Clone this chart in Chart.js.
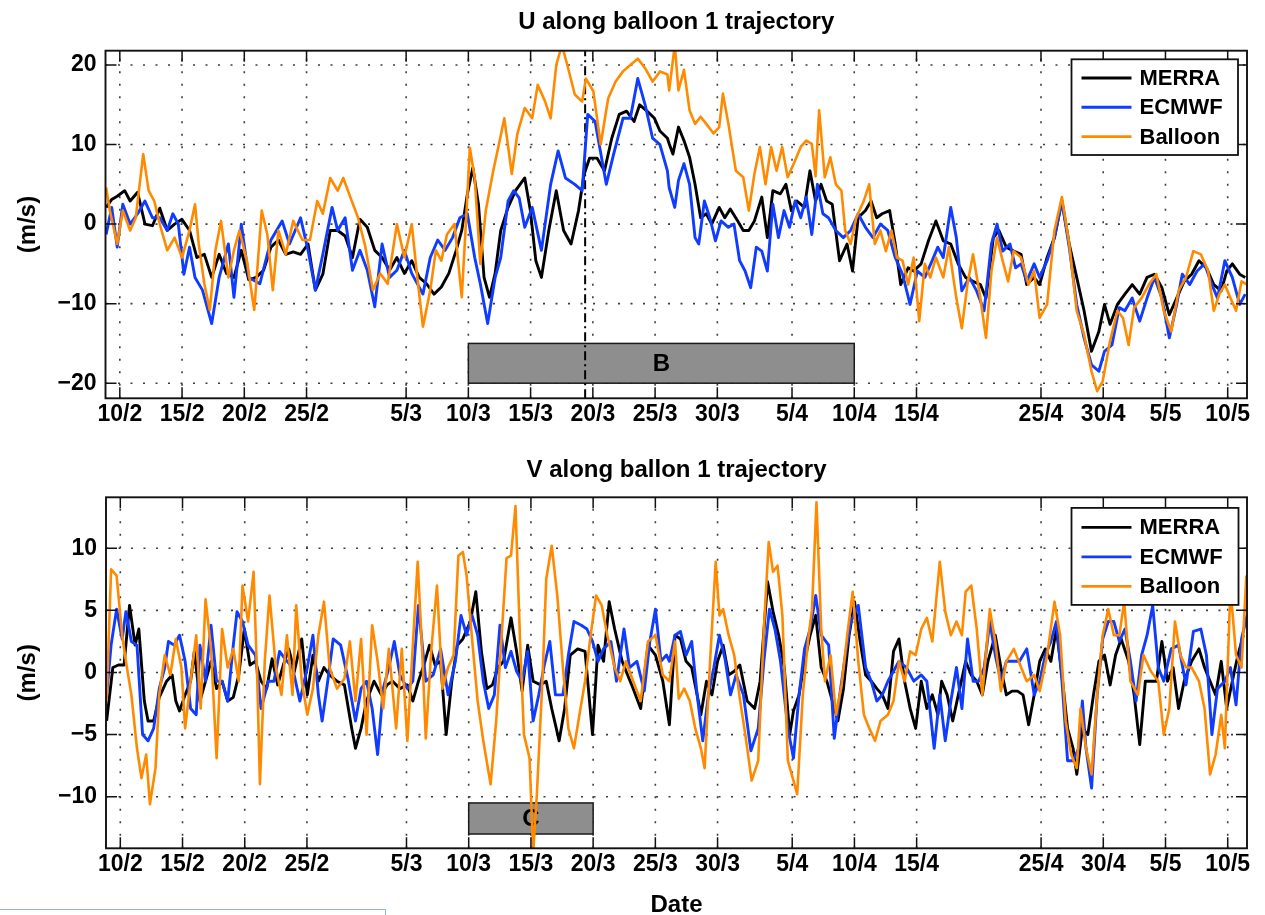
<!DOCTYPE html>
<html>
<head>
<meta charset="utf-8">
<script src="https://cdn.jsdelivr.net/npm/chart.js@4.4.1/dist/chart.umd.min.js"></script>
<style>
  html, body { margin: 0; padding: 0; background: #fff; overflow: hidden; width: 1265px; height: 915px; }
  #wrap { position: relative; width: 1265px; height: 915px; overflow: hidden; }
  canvas { position: absolute; left: 0; }
  #chartU { top: 0; }
  #chartV { top: 450px; }
  .selbox { position: absolute; left: -2px; top: 909px; width: 386px; height: 30px; border: 1.5px solid #8fb3e6; }
</style>
</head>
<body>
<div id="wrap">
  <canvas id="chartU" width="1265" height="450" style="width:1265px;height:450px"></canvas>
  <canvas id="chartV" width="1265" height="480" style="width:1265px;height:480px"></canvas>
  <div class="selbox"></div>
</div>
<script>
// Time axis: days after 10 Feb 2010 (00 UTC)
const tickDays   = [0, 5, 10, 15, 23, 28, 33, 38, 43, 48, 54, 59, 64, 74, 79, 84, 89];
const tickLabels = ['10/2','15/2','20/2','25/2','5/3','10/3','15/3','20/3','25/3','30/3','5/4','10/4','15/4','25/4','30/4','5/5','10/5'];
const dayRange = [-1.15, 90.55];

const uTicks = [-20, -10, 0, 10, 20];
const uRange = [-21.9, 21.8];
const vTicks = [-10, -5, 0, 5, 10];
const vRange = [-14.15, 14.1];

// Analysis periods shown as grey bars
const periodB = { from: 28, to: 59, low: -20, high: -15, label: 'B' };
const periodC = { from: 28, to: 38, low: -13, high: -10.5, label: 'C' };
// change of trajectory segment (dash-dot marker in U panel)
const splitDay = 37.38;

// ---------- U component ----------
const uMerraDay = [-1.10,-0.65,-0.21,0.39,0.83,1.43,2.02,2.62,3.21,3.81,4.40,4.99,5.60,6.19,6.79,7.38,7.98,8.57,9.17,9.76,10.36,10.95,11.55,12.14,12.74,13.33,13.93,14.52,15.12,15.71,16.31,16.90,17.50,18.10,18.69,19.29,19.88,20.48,21.07,21.67,22.26,22.86,23.45,24.05,24.64,25.24,25.83,26.43,27.02,27.47,27.92,28.36,28.81,29.26,29.70,30.15,30.60,31.19,31.79,32.53,32.98,33.42,33.87,34.46,35.06,35.65,36.25,36.85,37.29,37.74,38.33,38.93,39.52,40.12,40.71,41.31,41.76,42.35,42.95,43.39,43.99,
  44.13,44.43,44.88,45.32,45.77,46.21,46.66,47.11,47.55,48.15,48.60,49.04,49.64,50.08,50.53,50.98,51.57,52.02,52.46,53.06,53.51,53.95,54.40,54.99,55.44,55.89,56.33,56.78,57.23,57.82,58.42,58.86,59.31,59.90,60.35,60.80,61.24,61.84,62.29,62.73,63.33,63.77,64.37,64.96,65.56,66.15,66.75,67.35,67.94,68.54,69.13,69.58,70.17,70.62,71.21,71.81,72.40,72.85,73.45,73.89,74.49,75.08,75.68,76.27,76.87,77.46,78.06,78.65,79.10,79.55,80.14,80.74,81.33,81.93,82.52,83.12,83.71,84.31,84.90,85.50,86.10,86.69,87.29,87.88,88.48,88.92,89.37,89.96,90.41];
const uMerra = [2.1,3.1,3.5,4.2,2.9,4.0,0.0,-0.2,2.0,-0.8,0.0,0.6,-0.8,-4.2,-3.8,-6.7,-3.8,-6.2,-6.7,-3.3,-7.0,-6.7,-5.8,-2.9,-2.0,-3.8,-3.5,-3.8,-2.5,-8.3,-6.3,-0.8,-0.8,-1.5,-4.2,0.6,-0.4,-3.3,-4.2,-5.8,-4.2,-6.2,-4.6,-6.7,-7.5,-8.8,-7.9,-6.2,-3.3,-0.8,3.8,7.1,2.5,-6.7,-9.2,-6.2,-0.8,2.1,4.2,5.8,1.7,-4.6,-6.7,-0.8,4.2,-0.8,-2.5,1.7,6.2,8.3,8.3,6.7,10.8,13.8,14.2,12.9,15.0,14.2,13.3,11.7,10.8,
  10.1,8.8,12.2,10.5,8.4,5.0,0.8,1.3,0.0,2.1,0.8,1.9,0.4,-0.8,-0.8,0.4,3.4,-1.7,4.2,3.8,5.0,1.7,2.9,2.1,6.7,2.9,5.0,2.9,2.5,-4.6,-2.5,-5.9,0.8,1.7,2.9,0.8,1.3,1.7,-2.5,-7.6,-5.5,-5.9,-5.0,-2.1,0.4,-2.1,-2.5,-5.0,-6.7,-7.2,-7.6,-9.3,-1.7,-0.8,-2.9,-3.4,-3.8,-7.6,-6.7,-7.6,-4.2,-1.7,2.9,-2.5,-6.7,-10.9,-16.0,-13.5,-10.1,-12.6,-10.1,-8.8,-7.6,-8.8,-6.7,-6.3,-8.0,-11.4,-9.3,-7.2,-6.3,-4.6,-5.5,-7.6,-8.4,-5.9,-5.0,-6.3,-6.7];

const uEcmwfDay = [-1.10,-0.65,-0.21,0.24,0.83,1.43,2.02,2.62,3.21,3.81,4.26,4.70,5.15,5.60,6.04,6.64,7.38,7.98,8.72,9.17,9.76,10.36,11.25,12.14,13.04,13.63,14.52,15.12,15.71,16.31,17.05,17.50,18.10,18.69,19.29,19.88,20.48,21.07,21.67,22.26,22.86,23.45,24.35,24.94,25.54,26.13,26.73,27.32,27.92,28.51,28.96,29.55,30.15,30.60,31.19,31.64,32.08,32.53,33.13,33.87,34.61,35.21,35.80,36.55,37.14,37.59,38.18,39.08,39.67,40.42,41.01,41.61,42.20,42.80,43.39,43.99,
  44.13,44.58,44.88,45.32,45.77,46.21,46.51,46.96,47.40,47.85,48.30,48.89,49.34,49.79,50.23,50.68,51.13,51.57,52.02,52.46,52.91,53.36,53.80,54.25,54.70,55.14,55.59,56.04,56.48,56.93,57.52,58.12,58.71,59.31,59.90,60.50,61.10,61.69,62.29,62.88,63.48,64.07,64.67,65.26,65.71,66.15,66.75,67.20,67.64,68.24,68.83,69.43,70.02,70.47,70.92,71.51,71.96,72.40,72.85,73.45,73.89,74.49,75.08,75.68,76.27,76.87,77.46,78.06,78.65,79.10,79.70,80.29,80.74,81.33,81.93,82.52,83.12,83.71,84.31,84.90,85.35,85.95,86.54,87.14,87.73,88.18,88.77,89.37,89.96,90.41];
const uEcmwf = [-1.3,2.1,-2.9,2.5,0.0,1.3,2.9,0.8,0.8,-0.8,1.3,0.0,-6.3,-2.9,-6.7,-8.3,-12.5,-6.7,-2.5,-9.2,0.0,-6.7,-7.5,-2.0,0.4,-2.5,0.8,-3.3,-8.3,-3.8,2.1,-0.8,0.8,-5.8,-3.3,-5.8,-10.4,-2.5,-6.7,-5.8,-3.3,-6.2,-8.8,-4.2,-2.0,-3.3,-1.7,0.8,1.3,-4.2,-7.5,-12.5,-6.7,-4.2,2.9,4.2,3.3,-0.4,2.1,-3.3,5.0,9.2,5.8,5.0,4.2,13.8,12.9,5.0,8.8,13.3,13.3,18.3,15.0,10.8,10.0,6.7,
  4.6,2.1,5.5,7.6,5.0,-1.7,-2.5,2.9,0.8,-2.1,0.4,-0.4,0.0,-4.6,-5.9,-8.0,-2.9,-3.4,-5.9,2.5,-1.7,1.7,-0.4,2.9,0.8,3.4,-1.3,5.0,1.3,0.8,-0.8,-1.7,-0.8,1.3,-0.4,-1.7,0.0,-0.8,-4.2,-6.3,-10.1,-5.9,-6.7,-4.6,-2.9,-4.2,2.1,-1.7,-8.4,-6.7,-8.4,-10.9,-2.5,0.0,-3.4,-2.5,-5.5,-5.0,-7.2,-5.0,-6.7,-4.6,-1.7,2.9,-2.9,-10.1,-14.3,-17.7,-18.5,-16.0,-15.2,-10.5,-10.9,-9.3,-12.2,-9.3,-6.7,-9.3,-14.3,-10.1,-6.3,-7.6,-5.9,-5.0,-7.6,-9.3,-4.6,-6.7,-10.1,-8.8];

const uBalloonDay = [-1.10,-0.80,-0.21,0.24,0.83,1.28,1.88,2.32,2.77,3.21,3.81,4.40,5.00,5.60,6.04,6.34,6.79,7.23,7.68,8.13,8.72,9.17,9.61,10.21,10.80,11.40,11.85,12.29,12.74,13.33,13.93,14.67,15.27,15.86,16.31,16.90,17.50,17.95,18.54,19.14,19.73,20.33,20.92,21.52,22.26,22.86,23.45,23.90,24.35,24.94,25.39,25.83,26.28,26.88,27.47,27.77,28.12,28.51,28.96,29.40,30.00,30.45,30.89,31.49,31.93,32.53,33.13,33.57,34.17,34.61,35.06,35.51,35.95,36.55,37.14,37.44,38.04,38.63,39.23,39.82,40.42,41.01,41.61,42.20,42.80,43.39,43.99,
  44.13,44.58,44.88,45.32,45.77,46.21,46.66,47.11,47.70,48.15,48.45,48.89,49.49,50.08,50.53,50.98,51.42,51.87,52.32,52.76,53.21,53.65,54.25,54.70,55.14,55.59,55.89,56.18,56.63,57.08,57.52,57.97,58.27,58.71,59.16,59.76,60.20,60.65,61.10,61.54,61.99,62.43,62.88,63.33,63.77,64.22,64.67,65.11,65.56,66.15,66.60,67.20,67.64,68.09,68.54,69.13,69.58,70.02,70.47,70.92,71.36,71.81,72.40,73.00,73.45,73.89,74.49,75.08,75.68,76.27,76.87,77.46,78.06,78.51,78.95,79.55,80.14,80.59,81.04,81.48,82.08,82.67,83.27,83.86,84.46,85.05,85.65,86.24,86.84,87.43,87.88,88.33,88.77,89.22,89.67,90.11,90.56];
const uBalloon = [4.6,1.7,-2.5,1.7,-0.8,0.8,8.8,4.2,2.9,0.0,-3.3,-1.7,-4.2,-0.8,2.5,-2.5,-7.5,-10.8,-3.3,0.4,-6.7,-3.3,-0.8,-4.6,-10.8,1.7,-1.3,-8.3,-0.8,-3.8,0.4,-2.0,-2.0,2.9,1.3,5.8,4.2,5.8,3.3,0.8,-2.9,-8.3,-6.2,-7.5,0.0,-4.2,0.0,-6.7,-12.9,-8.3,-3.3,-4.6,-1.3,0.0,-9.2,-0.8,9.6,5.8,-5.0,1.7,6.7,10.0,13.3,6.3,11.3,14.6,13.3,17.5,15.4,13.3,20.0,22.5,20.0,16.3,15.4,18.3,16.7,10.0,15.8,17.9,19.2,20.0,20.8,19.6,17.9,19.2,18.8,
  16.8,22.5,16.8,19.4,14.3,12.6,13.5,12.6,11.4,12.2,16.4,12.6,6.7,5.9,1.7,6.3,9.7,5.0,9.7,6.7,9.7,5.9,8.0,9.7,10.5,10.1,6.0,14.3,5.9,8.4,5.0,4.2,-0.8,-2.5,0.8,2.9,5.0,-2.5,-0.8,-3.4,-0.8,-4.2,-4.6,-7.6,-4.2,-12.2,-5.0,-6.7,-4.2,-6.7,-2.9,-9.3,-13.1,-7.6,-3.8,-9.3,-14.3,-5.9,-1.7,-4.6,-7.2,-3.4,-4.2,-7.6,-5.9,-11.8,-10.1,-0.8,3.4,-2.5,-10.9,-13.9,-18.5,-21.0,-19.8,-14.7,-10.9,-11.8,-15.2,-10.5,-9.3,-7.6,-6.3,-10.9,-13.5,-8.4,-6.7,-3.4,-3.8,-5.9,-10.9,-8.8,-7.6,-9.3,-10.9,-7.2,-7.6];

// ---------- V component ----------
const vMerraDay = [-1.10,-0.60,-0.15,0.30,0.74,1.19,1.49,1.93,2.23,2.68,3.13,3.72,4.17,4.46,4.76,5.21,5.65,5.95,6.40,6.85,7.29,7.74,8.18,8.63,9.08,9.52,9.97,10.42,10.86,11.31,11.76,12.20,12.65,13.10,13.54,13.99,14.58,15.03,15.48,15.92,16.37,16.82,17.41,18.01,18.60,18.90,19.35,19.79,20.39,20.98,21.43,21.88,22.47,23.07,23.51,23.96,24.40,24.85,25.30,25.74,26.19,26.64,27.08,27.53,28.13,28.57,29.02,29.46,29.91,30.36,30.80,31.40,31.85,32.29,32.74,33.18,33.78,34.23,34.67,35.27,35.71,36.16,36.76,37.35,37.95,38.39,38.84,39.29,39.73,40.33,40.77,41.22,41.82,42.41,43.01,43.60,
  44.13,44.58,45.02,45.47,45.92,46.36,46.66,47.11,47.55,48.00,48.45,48.89,49.34,49.79,50.38,50.98,51.42,52.02,52.46,52.91,53.36,53.80,54.10,54.55,54.99,55.44,55.89,56.33,56.78,57.23,57.67,58.12,58.57,59.01,59.46,59.90,60.35,60.80,61.24,61.69,62.14,62.58,63.03,63.48,63.92,64.37,64.82,65.26,65.71,66.01,66.45,66.90,67.35,67.94,68.39,68.83,69.28,69.73,70.32,70.77,71.21,71.66,72.11,72.55,73.00,73.45,73.89,74.34,74.79,75.23,75.68,76.13,76.57,76.87,77.32,77.76,78.21,78.65,79.10,79.55,79.99,80.44,81.04,81.48,81.93,82.38,82.82,83.27,83.71,84.16,84.61,85.05,85.50,86.10,86.69,87.14,87.58,88.03,88.48,88.92,89.37,89.82,90.26];
const vMerra = [-3.9,0.4,0.6,0.6,5.4,2.2,3.5,-2.3,-3.9,-3.9,-2.0,-0.7,-0.2,-2.3,-3.1,-1.8,-0.7,1.7,-2.3,-0.7,0.9,-1.3,-0.7,-2.3,-2.0,-0.2,3.5,0.6,0.9,-0.7,-1.3,1.1,-1.0,0.6,1.9,0.1,2.7,-1.8,1.4,-0.7,0.4,-0.2,-0.7,-1.0,-4.5,-6.1,-4.5,-2.3,-0.7,-1.8,-1.0,-0.7,-1.3,-1.0,-2.3,-0.7,0.6,2.2,0.6,0.9,-5.0,-0.7,2.2,2.7,4.1,6.5,1.7,-1.3,-1.0,0.4,0.9,4.4,1.7,-1.5,2.2,-0.7,-1.0,-0.7,-2.9,-5.5,-2.9,1.4,1.9,1.7,-5.0,2.2,0.9,5.7,3.5,0.9,-0.2,-1.3,-2.9,2.2,1.4,-0.7,
  -4.2,3.0,2.7,0.9,0.4,-1.8,-3.4,-0.7,-1.8,0.9,2.2,-0.2,0.1,0.6,-2.3,-2.9,-0.7,7.3,4.9,3.0,0.4,-5.0,-3.1,-1.8,0.9,3.0,4.6,0.4,-0.7,-2.3,-3.9,-1.3,3.0,5.7,2.5,-0.2,-0.7,-1.3,-1.8,-2.9,1.7,2.7,-0.7,-2.9,-4.5,-0.7,-2.9,-1.8,-3.4,-0.7,-1.8,-3.9,-1.8,0.9,-0.2,-0.7,-1.8,0.9,3.0,0.4,-1.8,-1.5,-1.5,-1.8,-4.2,-1.8,0.9,1.9,0.9,3.5,-0.2,-4.5,-6.1,-8.2,-4.5,-5.0,-1.8,0.9,1.4,-1.0,1.4,2.7,0.9,-1.8,-5.8,-0.7,-0.7,-0.7,2.5,-0.7,0.4,-2.9,-0.7,0.9,1.9,0.4,-0.7,-1.8,0.9,-2.9,-0.7,1.4,3.0];

const vEcmwfDay = [-1.10,-0.74,-0.30,0.15,0.45,0.89,1.34,1.79,2.23,2.68,3.13,3.57,3.87,4.32,4.76,5.21,5.65,6.10,6.40,6.85,7.29,7.74,8.18,8.63,9.08,9.38,9.82,10.27,10.86,11.31,11.90,12.35,12.80,13.24,13.84,14.43,15.03,15.48,15.92,16.22,16.67,17.11,17.71,18.30,18.90,19.35,19.79,20.24,20.68,21.13,21.58,22.02,22.47,23.07,23.51,23.96,24.55,25.15,25.74,26.34,26.93,27.38,27.83,28.27,28.72,29.17,29.61,30.06,30.51,30.95,31.40,31.85,32.29,32.74,33.18,33.63,34.08,34.52,34.97,35.57,36.01,36.46,37.05,37.50,37.95,38.39,38.84,39.43,39.88,40.48,40.92,41.52,42.11,42.56,43.01,43.45,43.90,
  44.13,44.58,45.02,45.47,45.92,46.36,46.81,47.26,47.70,48.15,48.60,49.04,49.49,50.08,50.68,51.27,51.72,52.17,52.61,53.06,53.65,54.10,54.55,54.99,55.44,55.89,56.33,56.93,57.38,57.82,58.27,58.71,59.31,59.90,60.35,60.80,61.24,61.69,62.14,62.58,63.18,63.77,64.37,64.82,65.41,65.86,66.30,66.75,67.20,67.64,68.09,68.54,68.98,69.43,69.88,70.32,70.77,71.21,71.66,72.26,72.85,73.45,73.89,74.34,74.79,75.23,75.68,76.13,76.57,77.02,77.32,77.61,78.06,78.51,78.95,79.40,79.85,80.29,80.74,81.18,81.63,82.08,82.52,82.97,83.42,83.86,84.46,85.05,85.65,86.24,86.84,87.29,87.73,88.18,88.77,89.22,89.67,90.11,90.56];
const vEcmwf = [-1.8,2.2,5.1,2.7,4.9,2.5,2.2,-5.0,-5.5,-4.5,-1.3,0.4,2.5,2.2,3.0,0.9,-2.9,-3.4,2.2,-0.7,3.8,-0.7,-0.7,-2.3,2.2,4.9,4.1,2.2,1.4,-2.9,-0.7,-0.7,1.7,1.1,0.4,-2.3,0.4,3.0,-1.8,-3.9,-0.7,2.7,2.2,-0.5,-3.9,-1.3,-0.7,-2.9,-6.6,-1.3,0.4,2.5,-0.2,-1.3,-0.7,5.4,-0.7,-0.2,1.9,-1.8,0.9,4.6,3.0,4.6,3.0,-0.7,-2.9,-1.8,3.8,0.4,1.7,0.1,-0.7,1.7,-3.9,-1.8,0.6,2.5,-1.8,-1.8,1.4,4.1,3.8,3.5,2.5,0.9,1.9,2.5,-0.7,3.5,0.4,0.9,-1.5,2.5,5.1,0.9,1.4,
  0.9,3.0,3.3,1.4,2.5,-1.8,-5.5,-1.8,0.4,3.0,1.1,-1.8,-0.2,-1.8,-6.3,-4.5,0.9,5.1,3.5,0.9,-4.5,-6.9,-1.8,1.9,3.5,6.2,3.0,2.2,-5.3,-1.8,1.4,4.1,5.4,0.4,-0.7,-2.3,-1.8,-0.7,0.1,0.9,0.4,-0.7,-0.2,-0.7,-6.1,-1.8,-5.5,-2.3,0.4,-2.9,2.7,-0.7,-0.7,0.4,4.1,1.4,-0.7,0.9,0.9,0.9,1.9,-1.8,-0.7,1.4,2.5,4.1,-0.7,-7.1,-7.1,-6.1,-2.3,-6.1,-9.3,-1.8,2.7,4.1,4.1,2.5,3.5,0.9,-2.3,1.4,3.0,5.4,0.4,-0.7,1.9,2.2,-1.0,3.3,3.5,1.4,-5.0,-1.3,-0.7,0.4,-2.6,2.7,4.6];

const vBalloonDay = [-1.10,-0.74,-0.30,0.15,0.45,0.89,1.34,1.70,2.08,2.38,2.83,3.13,3.57,4.02,4.46,4.91,5.21,5.65,6.10,6.46,6.85,7.29,7.74,8.18,8.63,9.08,9.52,9.82,10.27,10.71,11.01,11.22,11.61,11.99,12.50,12.95,13.39,13.84,14.14,14.58,15.03,15.48,15.92,16.37,16.82,17.41,18.01,18.45,18.90,19.35,19.79,20.24,20.68,21.13,21.58,22.17,22.62,23.07,23.51,23.90,24.26,24.55,25.00,25.45,25.89,26.34,26.79,27.17,27.53,27.83,28.27,28.72,29.17,29.76,30.21,30.65,31.04,31.40,31.76,32.14,32.44,32.89,33.18,33.48,33.93,34.23,34.67,35.12,35.57,36.01,36.46,36.90,37.35,37.80,38.24,38.69,39.14,39.73,40.18,40.63,41.22,41.82,42.41,43.01,43.60,
  44.13,44.58,44.88,45.32,45.77,46.21,46.66,46.96,47.40,47.85,48.15,48.45,48.89,49.34,49.79,50.23,50.74,51.27,51.72,52.11,52.46,52.82,53.21,53.65,54.10,54.40,54.85,55.29,55.59,55.95,56.33,56.63,57.08,57.52,57.97,58.42,58.86,59.31,59.76,60.20,60.65,61.10,61.69,62.14,62.58,63.03,63.48,63.92,64.37,64.82,65.26,65.86,66.30,66.75,67.20,67.64,67.94,68.39,68.83,69.28,69.88,70.32,70.77,71.21,71.81,72.40,72.85,73.45,73.89,74.49,75.08,75.53,75.98,76.42,76.87,77.17,77.61,78.06,78.51,78.95,79.40,79.85,80.29,80.68,81.18,81.78,82.23,82.82,83.42,83.86,84.31,84.76,85.20,85.65,86.10,86.69,87.14,87.58,88.03,88.48,88.77,89.22,89.67,90.11,90.50];
const vBalloon = [-2.3,8.3,7.8,3.0,0.9,-1.8,-6.1,-8.5,-6.6,-10.6,-7.7,-1.8,1.4,-0.2,2.7,0.4,-4.5,-0.7,3.0,-2.9,5.9,1.9,-6.9,3.5,0.4,1.9,-0.7,7.0,4.1,8.1,-0.7,-9.0,0.9,6.2,0.4,-1.8,3.0,-1.8,5.4,-0.7,-3.4,-1.3,3.0,5.7,0.4,-1.3,-0.5,2.5,-2.3,2.7,-5.0,3.8,0.9,-2.9,1.9,-4.5,1.9,-5.5,2.2,8.9,1.7,-5.3,1.9,7.0,-1.3,0.4,1.4,9.4,9.7,7.8,2.7,-2.3,-5.5,-9.0,-3.9,3.0,9.2,9.4,13.4,2.2,-5.0,-6.9,-14.5,-9.8,-0.5,7.5,10.2,6.2,0.4,-4.5,-6.1,-3.4,-0.7,3.0,6.2,5.4,3.0,0.4,-0.7,0.9,-0.7,-2.3,2.5,3.0,-0.2,
  -0.7,2.5,-2.1,-1.3,-2.3,-4.5,-6.1,-7.7,0.9,8.9,4.6,5.1,3.0,1.4,-2.1,-5.0,-8.7,-7.1,3.5,10.5,8.1,8.6,4.6,-7.1,-8.7,-9.8,-1.8,2.7,5.1,13.7,3.5,-0.7,1.4,-3.4,-1.0,3.0,6.5,0.9,-3.4,-4.5,-5.5,-3.9,-3.4,-2.3,0.9,-0.7,1.7,1.4,3.5,4.4,2.5,8.9,4.9,3.0,4.1,3.0,6.5,7.0,3.5,-1.8,5.1,2.5,-1.5,0.9,1.9,0.4,-0.7,-0.2,-1.5,1.4,5.7,3.0,-3.9,-6.6,-7.7,-2.9,-6.1,-8.2,-1.8,3.0,5.1,3.0,3.0,5.7,-0.7,-1.8,1.4,0.1,-0.7,-5.0,-2.9,4.1,1.4,0.4,0.4,-0.7,-2.9,-8.2,-6.6,-3.4,-6.1,6.8,1.4,0.4,7.8];

const legendOrder = ['MERRA', 'ECMWF', 'Balloon'];
const FONT = '"Liberation Sans", Arial, Helvetica, sans-serif';
Chart.defaults.font.family = FONT;
Chart.defaults.color = '#000';

const pts = (days, vals) => days.map((d, i) => ({ x: d, y: vals[i] }));
const fmtTick = v => (v < 0 ? '\u2212' + Math.abs(v) : String(v));

// grid, shaded period, inward ticks, frame and boxed legend in the MATLAB style
const axesDecor = {
  id: 'axesDecor',
  beforeDatasetsDraw(chart, _args, o) {
    const { ctx, chartArea: a, scales: { x, y } } = chart;
    ctx.save();
    ctx.strokeStyle = 'rgba(40,40,40,0.9)';
    ctx.lineWidth = 1.6;
    ctx.setLineDash([2, 10.5]);
    for (const t of x.ticks) {
      const px = x.getPixelForValue(t.value);
      ctx.beginPath(); ctx.moveTo(px, a.bottom); ctx.lineTo(px, a.top); ctx.stroke();
    }
    for (const t of y.ticks) {
      const py = y.getPixelForValue(t.value);
      ctx.beginPath(); ctx.moveTo(a.left, py); ctx.lineTo(a.right, py); ctx.stroke();
    }
    ctx.setLineDash([]);
    const p = o.period;
    const x0 = x.getPixelForValue(p.from), x1 = x.getPixelForValue(p.to);
    const y0 = y.getPixelForValue(p.high), y1 = y.getPixelForValue(p.low);
    ctx.fillStyle = '#8e8e8e';
    ctx.fillRect(x0, y0, x1 - x0, y1 - y0);
    ctx.strokeStyle = '#1a1a1a';
    ctx.lineWidth = 1.5;
    ctx.strokeRect(x0, y0, x1 - x0, y1 - y0);
    ctx.fillStyle = '#000';
    ctx.font = 'bold 24px ' + FONT;
    ctx.textAlign = 'center';
    ctx.textBaseline = 'middle';
    ctx.fillText(p.label, (x0 + x1) / 2, (y0 + y1) / 2 + 1);
    ctx.restore();
  },
  afterDatasetsDraw(chart, _args, o) {
    const { ctx, chartArea: a, scales: { x, y } } = chart;
    ctx.save();
    const tl = 11;
    ctx.strokeStyle = '#111';
    ctx.lineWidth = 1.5;
    ctx.beginPath();
    for (const t of x.ticks) {
      const px = x.getPixelForValue(t.value);
      ctx.moveTo(px, a.bottom); ctx.lineTo(px, a.bottom - tl);
      ctx.moveTo(px, a.top); ctx.lineTo(px, a.top + tl);
    }
    for (const t of y.ticks) {
      const py = y.getPixelForValue(t.value);
      ctx.moveTo(a.left, py); ctx.lineTo(a.left + tl, py);
      ctx.moveTo(a.right, py); ctx.lineTo(a.right - tl, py);
    }
    ctx.stroke();
    ctx.lineWidth = 1.9;
    ctx.strokeRect(a.left, a.top, a.right - a.left, a.bottom - a.top);

    const lg = o.legend;
    const bx = a.right - lg.right - lg.width, by = a.top + lg.top;
    ctx.fillStyle = '#fff';
    ctx.fillRect(bx, by, lg.width, lg.height);
    ctx.strokeStyle = '#111';
    ctx.lineWidth = 1.8;
    ctx.strokeRect(bx, by, lg.width, lg.height);
    ctx.font = 'bold 22px ' + FONT;
    ctx.textAlign = 'left';
    ctx.textBaseline = 'middle';
    legendOrder.forEach((name, i) => {
      const ds = chart.data.datasets.find(d => d.label === name);
      const ry = by + lg.firstRow + i * lg.rowGap;
      ctx.strokeStyle = ds.borderColor;
      ctx.lineWidth = ds.borderWidth;
      ctx.beginPath(); ctx.moveTo(bx + 10, ry); ctx.lineTo(bx + 60, ry); ctx.stroke();
      ctx.fillStyle = '#000';
      ctx.fillText(name, bx + 68, ry + 1);
    });
    ctx.restore();
  }
};

function makeChart(id, cfg) {
  const datasets = [
    { label: 'Balloon', data: pts(cfg.balloon[0], cfg.balloon[1]), borderColor: '#ff8a00', borderWidth: 2.6 },
    { label: 'ECMWF', data: pts(cfg.ecmwf[0], cfg.ecmwf[1]), borderColor: '#0f3cff', borderWidth: 2.9 },
    { label: 'MERRA', data: pts(cfg.merra[0], cfg.merra[1]), borderColor: '#000000', borderWidth: 2.9 }
  ];
  if (cfg.marker !== undefined) {
    datasets.push({ label: 'segment', data: [{ x: cfg.marker, y: cfg.yRange[0] }, { x: cfg.marker, y: cfg.yRange[1] }],
      borderColor: '#000', borderWidth: 2, borderDash: [9, 4, 2, 4] });
  }
  datasets.forEach(d => { d.pointRadius = 0; d.tension = 0; d.fill = false; d.borderJoinStyle = 'round'; });

  return new Chart(document.getElementById(id), {
    type: 'line',
    data: { datasets },
    options: {
      responsive: false,
      maintainAspectRatio: false,
      animation: false,
      devicePixelRatio: 1,
      events: [],
      layout: { padding: { left: 0, right: 18, top: 0, bottom: 0 } },
      scales: {
        x: {
          type: 'linear',
          min: dayRange[0], max: dayRange[1],
          afterBuildTicks: s => { s.ticks = tickDays.map(v => ({ value: v })); },
          afterFit: s => { s.height = cfg.xHeight; },
          ticks: {
            autoSkip: false, maxRotation: 0, minRotation: 0, padding: 3,
            font: { size: 23, weight: 'bold' }, color: '#000',
            callback: v => tickLabels[tickDays.indexOf(v)]
          },
          grid: { display: false, drawTicks: false },
          border: { display: false },
          title: cfg.xTitle ? { display: true, text: cfg.xTitle, font: { size: 24, weight: 'bold' }, padding: { top: 0, bottom: 10.6 } } : { display: false }
        },
        y: {
          type: 'linear',
          min: cfg.yRange[0], max: cfg.yRange[1],
          afterBuildTicks: s => { s.ticks = cfg.yTicks.map(v => ({ value: v })); },
          afterFit: s => { s.width = cfg.yWidth; },
          ticks: { padding: 9, font: { size: 23, weight: 'bold' }, color: '#000', callback: fmtTick },
          grid: { display: false, drawTicks: false },
          border: { display: false },
          title: { display: true, text: '(m/s)', font: { size: 24, weight: 'bold' }, padding: { top: 14, bottom: 0 } }
        }
      },
      plugins: {
        legend: { display: false },
        tooltip: { enabled: false },
        title: {
          display: true, text: cfg.title, fullSize: false,
          font: { size: 24, weight: 'bold' }, color: '#000',
          padding: cfg.titlePad
        },
        axesDecor: { period: cfg.period, legend: cfg.legend }
      }
    },
    plugins: [axesDecor]
  });
}

makeChart('chartU', {
  title: 'U along balloon 1 trajectory',
  titlePad: { top: 7.6, bottom: 14.3 },
  merra: [uMerraDay, uMerra], ecmwf: [uEcmwfDay, uEcmwf], balloon: [uBalloonDay, uBalloon],
  yRange: uRange, yTicks: uTicks, yWidth: 105.5, xHeight: 51.7,
  marker: splitDay, period: periodB,
  legend: { right: 9, width: 166.5, top: 8.6, height: 95.7, firstRow: 18.7, rowGap: 29.3 }
});

makeChart('chartV', {
  title: 'V along ballon 1 trajectory',
  titlePad: { top: 5.6, bottom: 12.9 },
  merra: [vMerraDay, vMerra], ecmwf: [vEcmwfDay, vEcmwf], balloon: [vBalloonDay, vBalloon],
  yRange: vRange, yTicks: vTicks, yWidth: 106, xHeight: 81.7, xTitle: 'Date',
  period: periodC,
  legend: { right: 8.5, width: 167, top: 10.6, height: 97, firstRow: 19.5, rowGap: 29.5 }
});
</script>
</body>
</html>
